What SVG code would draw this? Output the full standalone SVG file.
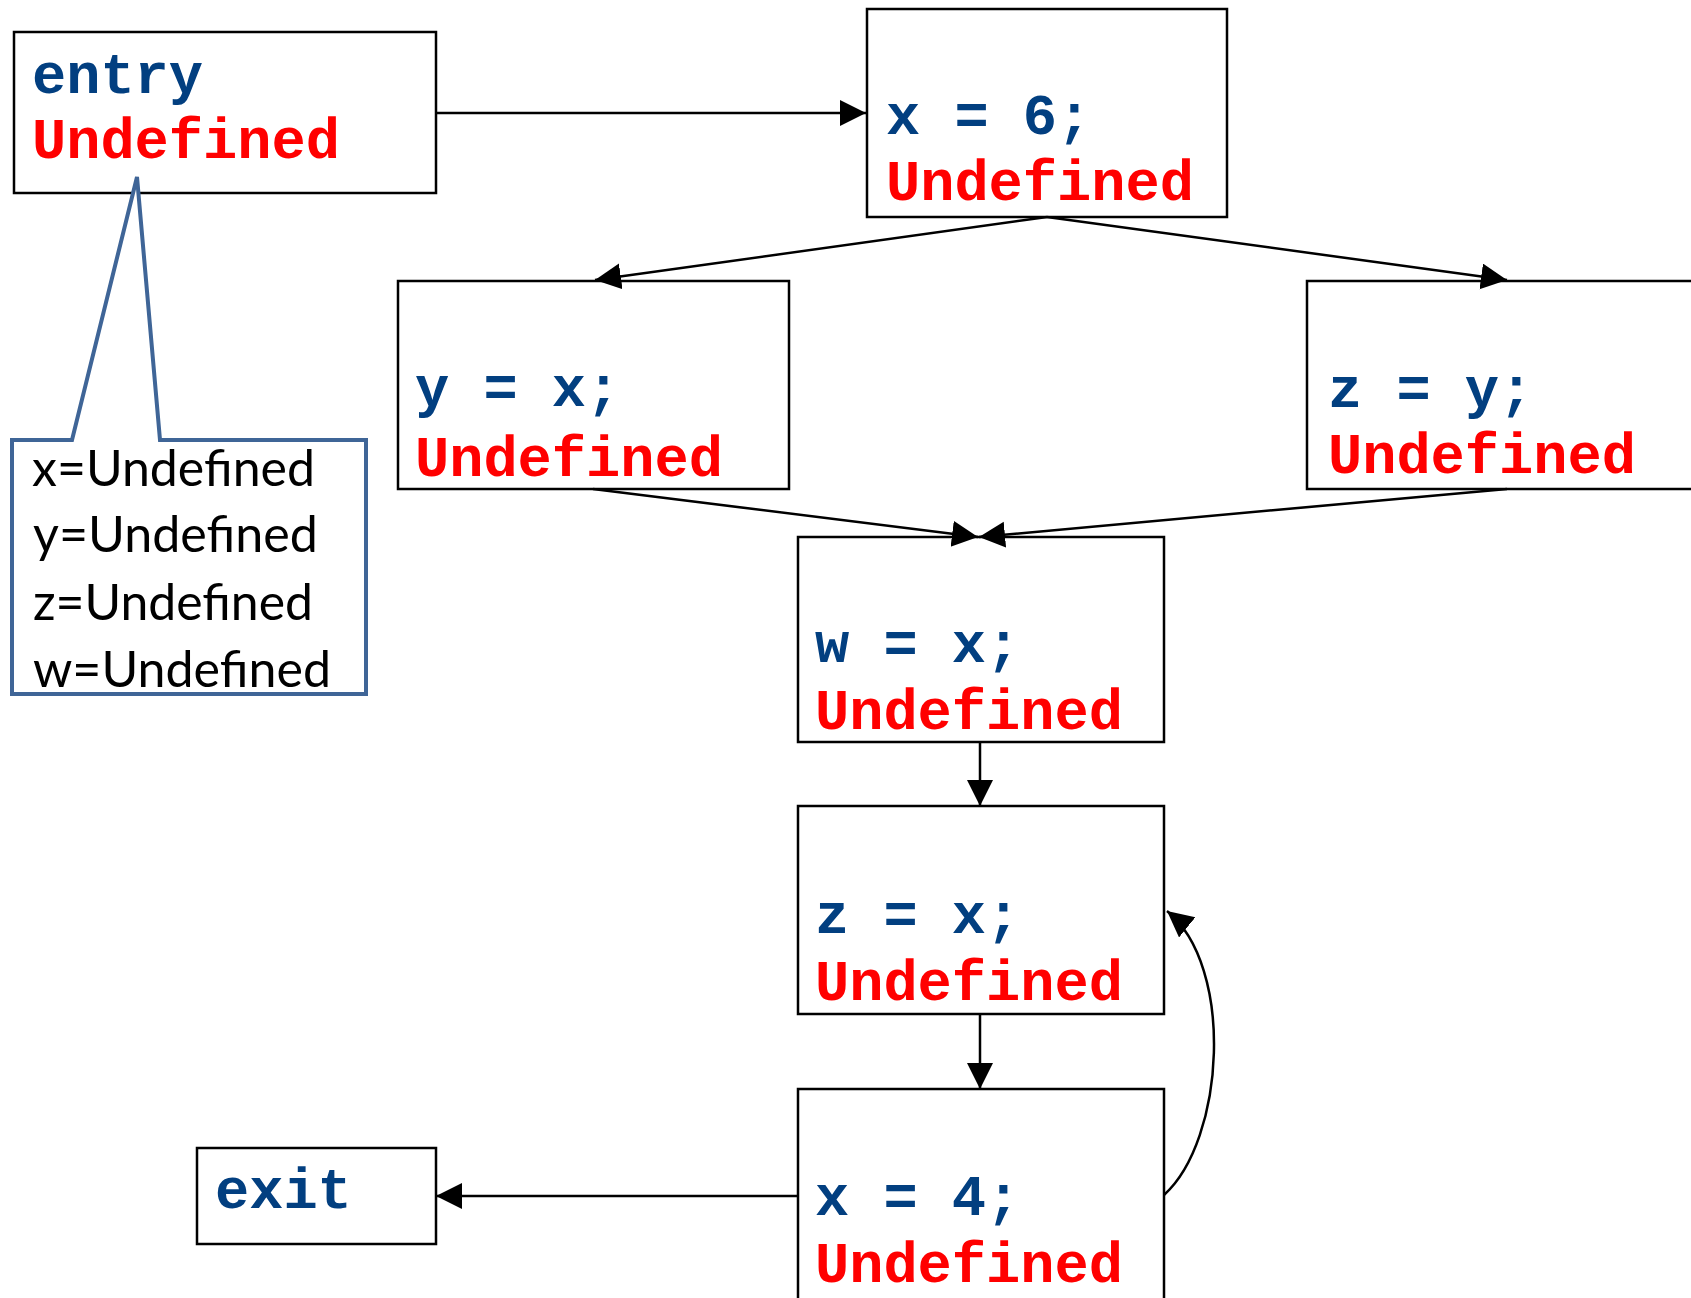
<svg xmlns="http://www.w3.org/2000/svg" width="1691" height="1298" viewBox="0 0 1691 1298">
<style>
.box{fill:#fff;stroke:#000;stroke-width:2.5}
.code{font-family:"Liberation Mono","DejaVu Sans Mono",monospace;font-weight:bold;font-size:57px}
.blue{fill:#023F80}
.red{fill:#FF0000}
.conn{fill:none;stroke:#000;stroke-width:2.5}
.note{font-family:Lato,"Liberation Sans",sans-serif;font-size:50px;fill:#000}
</style>
<defs>
<marker id="arr" markerUnits="userSpaceOnUse" markerWidth="27" markerHeight="27" refX="26" refY="13" orient="auto">
<path d="M0,0 L26,13 L0,26 Z" fill="#000"/>
</marker>
</defs>
<rect width="1691" height="1298" fill="#fff"/>
<g id="node-entry">
<rect class="box" x="14" y="32" width="422" height="161"/>
<text class="code blue" x="32" y="93">entry</text>
<text class="code red" x="32" y="158">Undefined</text>
</g>
<g id="node-x6">
<rect class="box" x="867" y="9" width="360" height="208"/>
<text class="code blue" x="886" y="134" xml:space="preserve">x = 6;</text>
<text class="code red" x="886" y="200">Undefined</text>
</g>
<g id="node-yx">
<rect class="box" x="398" y="281" width="391" height="208"/>
<text class="code blue" x="415" y="406" xml:space="preserve">y = x;</text>
<text class="code red" x="415" y="476">Undefined</text>
</g>
<g id="node-zy">
<rect class="box" x="1307" y="281" width="420" height="208"/>
<text class="code blue" x="1328" y="407" xml:space="preserve">z = y;</text>
<text class="code red" x="1328" y="473">Undefined</text>
</g>
<g id="node-wx">
<rect class="box" x="798" y="537" width="366" height="205"/>
<text class="code blue" x="815" y="662" xml:space="preserve">w = x;</text>
<text class="code red" x="815" y="729">Undefined</text>
</g>
<g id="node-zx">
<rect class="box" x="798" y="806" width="366" height="208"/>
<text class="code blue" x="815" y="933" xml:space="preserve">z = x;</text>
<text class="code red" x="815" y="1000">Undefined</text>
</g>
<g id="node-x4">
<rect class="box" x="798" y="1089" width="366" height="230"/>
<text class="code blue" x="815" y="1215" xml:space="preserve">x = 4;</text>
<text class="code red" x="815" y="1282">Undefined</text>
</g>
<g id="node-exit">
<rect class="box" x="197" y="1148" width="239" height="96"/>
<text class="code blue" x="215" y="1208">exit</text>
</g>
<g id="connectors">
<path class="conn" d="M436,113 L866,113" marker-end="url(#arr)"/>
<path class="conn" d="M1047,217 L595,280" marker-end="url(#arr)"/>
<path class="conn" d="M1047,217 L1507,280" marker-end="url(#arr)"/>
<path class="conn" d="M593,489 L978,537" marker-end="url(#arr)"/>
<path class="conn" d="M1507,489 L979,537" marker-end="url(#arr)"/>
<path class="conn" d="M980,742 L980,806" marker-end="url(#arr)"/>
<path class="conn" d="M980,1014 L980,1089" marker-end="url(#arr)"/>
<path class="conn" d="M798,1196 L436,1196" marker-end="url(#arr)"/>
<path class="conn" d="M1164,1195 C1225,1140 1235,966 1167,911" marker-end="url(#arr)"/>
</g>
<g id="note-callout">
<path d="M12,440 L72,440 L137,177 L160,440 L366,440 L366,694 L12,694 Z" fill="#fff" stroke="#3F6597" stroke-width="4" stroke-linejoin="miter"/>
<text class="note" x="32" y="486" textLength="283" lengthAdjust="spacingAndGlyphs">x=Undefined</text>
<text class="note" x="33" y="552" textLength="285" lengthAdjust="spacingAndGlyphs">y=Undefined</text>
<text class="note" x="33" y="620" textLength="280" lengthAdjust="spacingAndGlyphs">z=Undefined</text>
<text class="note" x="33" y="687" textLength="298" lengthAdjust="spacingAndGlyphs">w=Undefined</text>
</g>
</svg>
